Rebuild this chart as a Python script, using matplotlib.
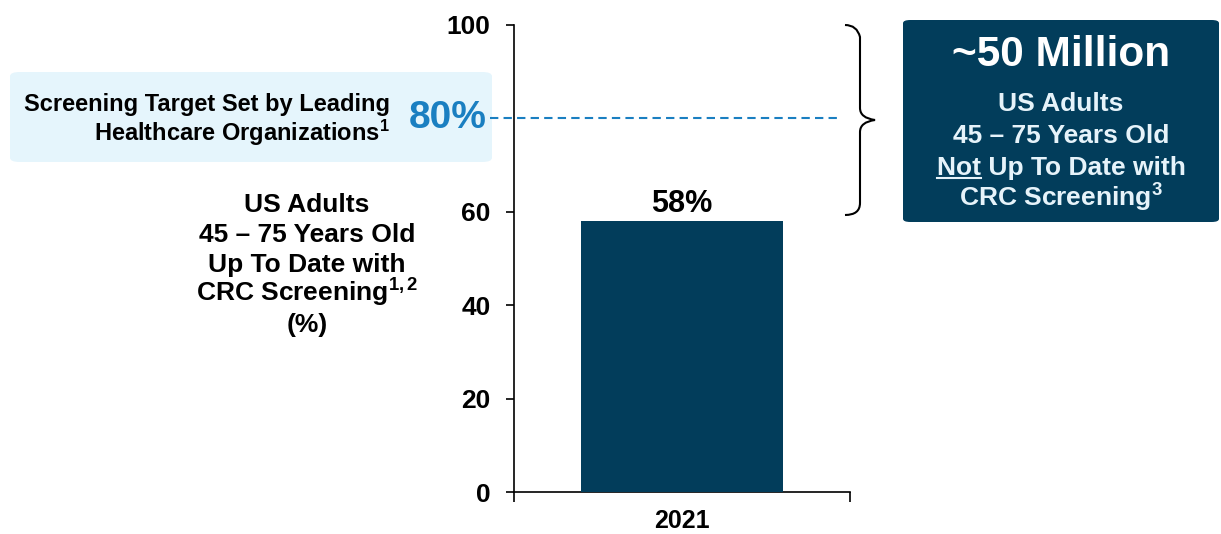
import matplotlib.pyplot as plt
from matplotlib.patches import FancyBboxPatch, PathPatch
from matplotlib.path import Path

plt.rcParams['font.family'] = ['Liberation Sans', 'DejaVu Sans']
plt.rcParams['font.weight'] = 'bold'
plt.rcParams['mathtext.fontset'] = 'custom'
plt.rcParams['mathtext.rm'] = 'Liberation Sans:bold'
plt.rcParams['mathtext.it'] = 'Liberation Sans:bold'
plt.rcParams['mathtext.bf'] = 'Liberation Sans:bold'

years = ['2021']
share = [58]
target = 80
yticks = [0, 20, 40, 60, 100]

target_lines = ['Screening Target Set by Leading', 'Healthcare Organizations$^{1}$']
left_lines = ['US Adults', '45 – 75 Years Old', 'Up To Date with',
              'CRC Screening$^{1,2}$', '(%)']
box_lines = ['US Adults', '45 – 75 Years Old', 'Not Up To Date with',
             'CRC Screening$^{3}$']

navy = '#023d5b'
blue = '#1a7fc1'
light = '#e6f3fa'

fig = plt.figure(figsize=(12.21, 5.34), dpi=100)
W, H = 1221, 534

def fx(px):
    return px / W

def fy(py):
    return 1 - py / H

def stack(x, y0, step, lines, **kw):
    out = []
    for i, s in enumerate(lines):
        out.append(fig.text(fx(x), fy(y0 + i * step), s, va='baseline', **kw))
    return out

ax = fig.add_axes([fx(514), fy(492), fx(850) - fx(514), fy(25) - fy(492)])
ax.bar(0, share[0], width=0.6, color=navy, zorder=3)
ax.set_xlim(-0.5, 0.5)
ax.set_ylim(0, 100)
ax.set_yticks(yticks)
ax.tick_params(axis='y', labelsize=19, length=6, width=1.2, pad=11)
ax.set_xticks([-0.5, 0.5])
ax.set_xticklabels(['', ''])
ax.tick_params(axis='x', which='major', length=7, width=1.2, direction='out')
ax.set_xticks([0], minor=True)
ax.set_xticklabels(years, minor=True, fontsize=18)
ax.tick_params(axis='x', which='minor', length=0, pad=12)
for s in ['top', 'right']:
    ax.spines[s].set_visible(False)
for s in ['left', 'bottom']:
    ax.spines[s].set_linewidth(1.2)
ax.text(0, share[0] + 0.5, f'{share[0]}%', ha='center', va='bottom', fontsize=22)

# light blue target box
fig.patches.append(FancyBboxPatch((fx(10), fy(162)), fx(492) - fx(10), fy(72) - fy(162),
                                  boxstyle='round,pad=0,rounding_size=0.008',
                                  transform=fig.transFigure, facecolor='#e5f5fc',
                                  edgecolor='none', zorder=0))
y80 = ax.transData.transform((0, target))[1] / H
stack(390, 111.5, 29.5, target_lines, ha='right', fontsize=17)
fig.text(fx(487), y80, f'{target}%', ha='right', va='center', fontsize=28, color=blue)
fig.add_artist(plt.Line2D([fx(490), fx(842)], [y80, y80], transform=fig.transFigure,
                          color=blue, lw=1.5, ls=(0, (4, 2.5))))

stack(307, 212, 30, left_lines, ha='center', fontsize=19)

# brace
x0, x1 = 845, 875
ytop, ybot, ymid = 25, 215, 120
r = 12
verts = [(x0, ytop), (x0 + r, ytop), (x0 + r + 3, ytop + r), (x0 + r + 3, ytop + r),
         (x0 + r + 3, ymid - r), (x0 + r + 3, ymid - 2), (x1, ymid),
         (x0 + r + 3, ymid + 2), (x0 + r + 3, ymid + r),
         (x0 + r + 3, ybot - r), (x0 + r + 3, ybot), (x0, ybot)]
verts = [(fx(a), fy(b)) for a, b in verts]
codes = [Path.MOVETO, Path.CURVE3, Path.CURVE3, Path.LINETO,
         Path.LINETO, Path.CURVE3, Path.CURVE3,
         Path.CURVE3, Path.CURVE3,
         Path.LINETO, Path.CURVE3, Path.CURVE3]
fig.add_artist(PathPatch(Path(verts, codes), transform=fig.transFigure,
                         facecolor='none', edgecolor='black', lw=1.5))

# dark callout box
fig.patches.append(FancyBboxPatch((fx(903), fy(222)), fx(1219) - fx(903), fy(20) - fy(222),
                                  boxstyle='round,pad=0,rounding_size=0.006',
                                  transform=fig.transFigure, facecolor=navy,
                                  edgecolor='none', zorder=0))
fig.text(fx(1061), fy(66), '~50 Million', ha='center', va='baseline', fontsize=30.5, color='white')
texts = stack(1061, 111, 32, box_lines, ha='center', fontsize=19, color=light)

fig.canvas.draw()
r_ = fig.canvas.get_renderer()
bb = texts[2].get_window_extent(r_)
tmp = fig.text(0, 0, 'Not', fontsize=19)
wn = tmp.get_window_extent(r_).width
tmp.remove()
uy = H - (174 + 4)
fig.add_artist(plt.Line2D([bb.x0 / W, (bb.x0 + wn) / W], [uy / H, uy / H],
                          transform=fig.transFigure, color=light, lw=1.5))

fig.savefig('out.png', dpi=100)
